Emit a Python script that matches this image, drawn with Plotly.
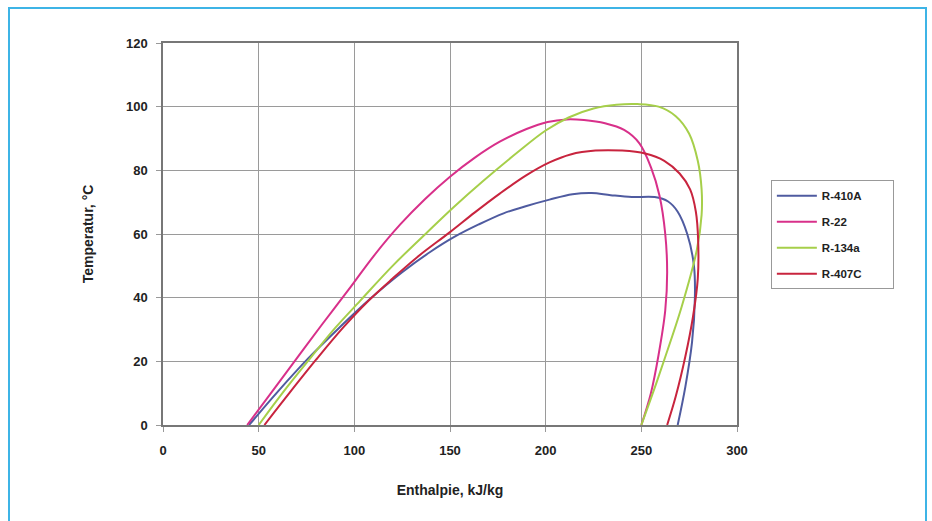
import plotly.graph_objects as go

# R-410A
r410a_h = [45, 60, 76, 92, 108, 125, 140, 152, 165, 178, 190, 202, 214, 224, 234, 245, 257, 264, 269, 274, 277.5, 278, 276.5, 273, 269]
r410a_t = [0, 10.5, 21, 30.5, 39.5, 48, 54.5, 59, 63, 66.5, 68.8, 70.8, 72.5, 72.9, 72.2, 71.6, 71.6, 70.2, 67, 60, 50, 40, 26, 12, 0]
# R-22
r22_h = [44, 57, 70, 83, 97, 110, 124, 137, 150, 163, 176, 190, 201, 211, 220, 231, 241, 249, 255, 259.5, 262.5, 263.5, 262.5, 259, 255, 250]
r22_t = [0, 10.5, 21, 31.5, 42.5, 53, 63, 71, 78, 84, 89, 93, 95.2, 96, 95.8, 94.8, 92.7, 88.5, 81, 72, 60, 48, 36, 22, 10, 0]
# R-134a
r134a_h = [50, 63, 77, 90, 103, 120, 138, 152, 167, 185, 200, 212, 225, 237, 248, 259, 268, 275, 279.5, 281.5, 281.5, 279, 271, 262, 256, 250]
r134a_t = [0, 10.5, 21, 30.5, 39, 50, 60.5, 68.5, 76.5, 85.5, 92.5, 96.6, 99.4, 100.6, 100.8, 100, 97, 91.5, 83, 74, 66, 55, 37, 20.5, 10, 0]
# R-407C
r407c_h = [53, 66, 80, 94, 107, 120, 133, 150, 163, 176, 190, 202, 213, 226, 240, 252, 262, 270, 275.5, 278.5, 279.7, 279.5, 277, 273, 268, 263.5]
r407c_t = [0, 10, 20.5, 30.5, 38.8, 46, 52.8, 60.6, 66.8, 72.7, 78.5, 82.5, 85, 86.2, 86.2, 85.3, 83, 79, 74, 67, 58, 46, 34, 21.5, 9, 0]

names = ["R-410A", "R-22", "R-134a", "R-407C"]
colors = ["#4f5ba0", "#d8308a", "#a6cf4a", "#c8243e"]
xs = [r410a_h, r22_h, r134a_h, r407c_h]
ys = [r410a_t, r22_t, r134a_t, r407c_t]

x_ticks = [0, 50, 100, 150, 200, 250, 300]
y_ticks = [0, 20, 40, 60, 80, 100, 120]

pad = "\u00a0" * 8
fig = go.Figure()
for n, c, x, y in zip(names, colors, xs, ys):
    fig.add_trace(go.Scatter(x=x, y=y, mode="lines", name=n + pad, legendgroup=n,
                             line=dict(color=c, width=2, shape="spline", smoothing=1.0)))

font_b = dict(family="Liberation Sans, Arial", size=13, color="#222", weight="bold")
title_f = dict(family="Liberation Sans, Arial", size=14, color="#222", weight="bold")

fig.update_layout(
    width=932, height=521,
    margin=dict(l=163, r=195, t=43, b=96),
    paper_bgcolor="white", plot_bgcolor="white",
    font=font_b,
    showlegend=True,
    legend=dict(x=1.059, y=0.641, xanchor="left", yanchor="top",
                bordercolor="#999", borderwidth=1, bgcolor="white",
                font=dict(family="Liberation Sans, Arial", size=11.5, color="#222", weight="bold"),
                tracegroupgap=7, itemwidth=40),
    xaxis=dict(range=[0, 300], tickvals=x_ticks, ticktext=[str(v) for v in x_ticks],
               showgrid=True, gridcolor="#9a9a9a", gridwidth=1,
               showline=True, linecolor="#777", linewidth=1.5, mirror=True,
               ticks="outside", ticklen=5, tickcolor="#999",
               zeroline=False, ticklabelstandoff=8,
               title=dict(text="Enthalpie, kJ/kg", standoff=28, font=title_f)),
    yaxis=dict(range=[0, 120], tickvals=y_ticks, ticktext=[str(v) for v in y_ticks],
               showgrid=True, gridcolor="#9a9a9a", gridwidth=1,
               showline=True, linecolor="#777", linewidth=1.5, mirror=True,
               ticks="outside", ticklen=5, tickcolor="#999",
               zeroline=False, ticklabelstandoff=6,
               title=dict(text="Temperatur, °C", standoff=29, font=title_f)),
)

# light-blue outer frame
fig.add_shape(type="rect", xref="paper", yref="paper",
              x0=(9 - 163) / 574, x1=(926 - 163) / 574,
              y0=(425 - 540) / 382, y1=(425 - 8) / 382,
              line=dict(color="#3db4e6", width=2), fillcolor="rgba(0,0,0,0)", layer="below")

fig.write_html("out.html")
